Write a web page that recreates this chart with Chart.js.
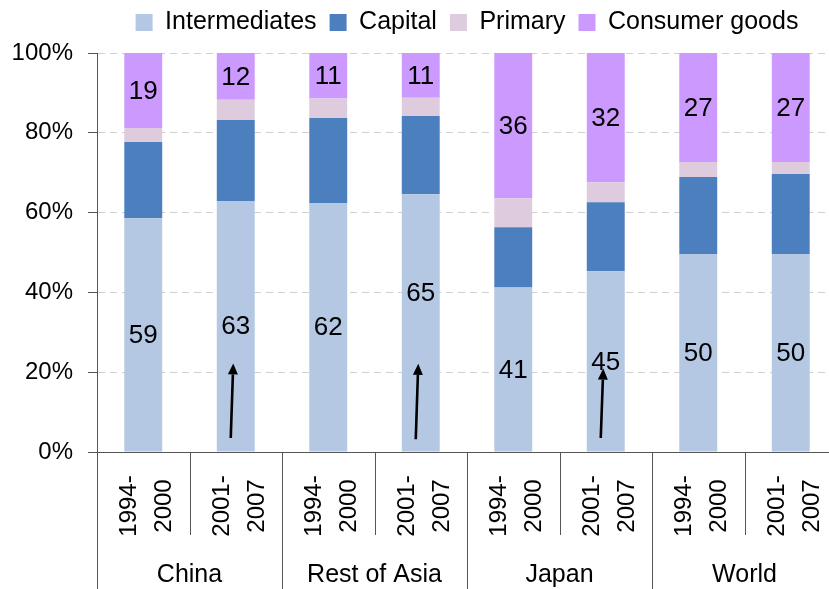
<!DOCTYPE html>
<html>
<head>
<meta charset="utf-8">
<script src="https://cdn.jsdelivr.net/npm/chart.js@4.4.0/dist/chart.umd.min.js"></script>
<style>
  html, body { margin: 0; padding: 0; background: #fff; overflow: hidden; }
  #wrap { width: 837px; height: 589px; }
</style>
</head>
<body>
<div id="wrap"><canvas id="chart"></canvas></div>
<script>
// Periods per bar, regions per pair of bars
const periods = [['1994-', '2000'], ['2001-', '2007'], ['1994-', '2000'], ['2001-', '2007'],
                 ['1994-', '2000'], ['2001-', '2007'], ['1994-', '2000'], ['2001-', '2007']];
const regions = ['China', 'Rest of Asia', 'Japan', 'World'];

// Shares of imports (%)
const intermediates = [58.6, 62.9, 62.4, 64.6, 41.2, 45.3, 49.6, 49.6];
const capital = [19.1, 20.3, 21.3, 19.6, 15.1, 17.3, 19.3, 20.1];
const primary = [3.5, 5.1, 4.9, 4.6, 7.3, 5.0, 3.8, 3.0];
const consumer = [18.8, 11.7, 11.4, 11.2, 36.4, 32.4, 27.3, 27.3];

const yTicks = [0, 20, 40, 60, 80, 100];

// Arrows drawn on some bars (from / to in %)
const arrowBars = [1, 3, 5];
const arrowFrom = [3.5, 3.2, 3.5];
const arrowTo = [22.2, 22.1, 20.9];

Chart.defaults.font.family = "'Liberation Sans', Arial, sans-serif";
Chart.defaults.color = '#000';

const lineColor = '#555';

// Lift the legend a little, leaving the plot where it is
const legendLift = {
  id: 'legendLift',
  afterLayout(chart) {
    const legend = chart.legend;
    if (!legend) return;
    legend.top -= 8;
    legend.bottom -= 8;
  }
};

// Numbers inside the intermediates and consumer goods segments
const valueLabels = {
  id: 'valueLabels',
  afterDatasetsDraw(chart) {
    const ctx = chart.ctx;
    ctx.save();
    ctx.font = "26px 'Liberation Sans', Arial, sans-serif";
    ctx.fillStyle = '#000';
    ctx.textAlign = 'center';
    ctx.textBaseline = 'middle';
    [0, 3].forEach(di => {
      const ds = chart.data.datasets[di];
      chart.getDatasetMeta(di).data.forEach((bar, i) => {
        let y = (bar.y + bar.base) / 2 + 1;
        // the 65 label sits higher, clear of its arrow
        if (di === 0 && i === 3) y -= 30;
        ctx.fillText(String(Math.round(ds.data[i])), bar.x, y);
      });
    });
    ctx.restore();
  }
};

// Arrows
const arrows = {
  id: 'arrows',
  afterDatasetsDraw(chart) {
    const ctx = chart.ctx;
    const xs = chart.scales.x, ys = chart.scales.y;
    ctx.save();
    ctx.strokeStyle = '#000';
    ctx.fillStyle = '#000';
    ctx.lineWidth = 2.6;
    arrowBars.forEach((b, k) => {
      const cx = xs.getPixelForValue(b);
      const x0 = cx - 5, y0 = ys.getPixelForValue(arrowFrom[k]);
      const x1 = cx - 2.5, y1 = ys.getPixelForValue(arrowTo[k]);
      const ang = Math.atan2(y1 - y0, x1 - x0);
      const hl = 11, hw = 5;
      const bx = x1 - hl * Math.cos(ang), by = y1 - hl * Math.sin(ang);
      ctx.beginPath();
      ctx.moveTo(x0, y0);
      ctx.lineTo(bx, by);
      ctx.stroke();
      ctx.beginPath();
      ctx.moveTo(x1, y1);
      ctx.lineTo(bx + hw * Math.sin(ang), by - hw * Math.cos(ang));
      ctx.lineTo(bx - hw * Math.sin(ang), by + hw * Math.cos(ang));
      ctx.closePath();
      ctx.fill();
    });
    ctx.restore();
  }
};

// Two-level category axis: rotated periods, region names, separators
const groupAxis = {
  id: 'groupAxis',
  afterDraw(chart) {
    const ctx = chart.ctx;
    const xs = chart.scales.x;
    const bottom = chart.chartArea.bottom;
    const half = (xs.getPixelForValue(1) - xs.getPixelForValue(0)) / 2;
    ctx.save();
    ctx.strokeStyle = lineColor;
    ctx.lineWidth = 1;
    for (let k = 0; k <= periods.length; k++) {
      const x = Math.round(xs.getPixelForValue(k) - half) + 0.5;
      ctx.beginPath();
      ctx.moveTo(x, bottom);
      ctx.lineTo(x, k % 2 === 0 ? chart.height : bottom + 83);
      ctx.stroke();
    }
    ctx.fillStyle = '#000';
    ctx.font = "24px 'Liberation Sans', Arial, sans-serif";
    ctx.textAlign = 'center';
    ctx.textBaseline = 'alphabetic';
    periods.forEach((lines, i) => {
      const cx = xs.getPixelForValue(i);
      ctx.save();
      ctx.translate(cx, bottom + 54);
      ctx.rotate(-Math.PI / 2);
      ctx.fillText(lines[0], 0, -7);
      ctx.fillText(lines[1], 0, 28);
      ctx.restore();
    });
    ctx.font = "25px 'Liberation Sans', Arial, sans-serif";
    regions.forEach((name, g) => {
      const cx = (xs.getPixelForValue(2 * g) + xs.getPixelForValue(2 * g + 1)) / 2;
      ctx.fillText(name, cx, bottom + 130);
    });
    ctx.restore();
  }
};

new Chart(document.getElementById('chart'), {
  type: 'bar',
  data: {
    labels: periods,
    datasets: [
      { label: 'Intermediates', data: intermediates, backgroundColor: '#B4C7E3' },
      { label: 'Capital', data: capital, backgroundColor: '#4C7FBE' },
      { label: 'Primary', data: primary, backgroundColor: '#DECBDE' },
      { label: 'Consumer goods', data: consumer, backgroundColor: '#CC99FF' }
    ]
  },
  options: {
    responsive: true,
    maintainAspectRatio: false,
    animation: false,
    datasets: {
      bar: { barPercentage: 0.41, categoryPercentage: 1, borderWidth: 0 }
    },
    plugins: {
      legend: {
        position: 'top',
        fullSize: false,
        labels: {
          boxWidth: 17,
          boxHeight: 17,
          padding: 13,
          color: '#000',
          font: { size: 25 }
        }
      },
      tooltip: { enabled: false }
    },
    scales: {
      x: {
        stacked: true,
        ticks: { display: false },
        grid: { display: false },
        border: { display: true, color: lineColor, width: 1 },
        afterFit(scale) { scale.height = 137; }
      },
      y: {
        stacked: true,
        min: 0,
        max: 100,
        afterBuildTicks(scale) { scale.ticks = yTicks.map(v => ({ value: v })); },
        ticks: {
          callback: v => v + '%',
          padding: 15,
          color: '#000',
          font: { size: 24 }
        },
        grid: {
          color: '#d0d0d0',
          tickColor: lineColor,
          tickLength: 9,
          tickBorderDash: []
        },
        border: { display: true, color: lineColor, width: 1, dash: [7, 5] },
        afterFit(scale) {
          scale.width = 97;
          scale.paddingTop = 53;
        }
      }
    }
  },
  plugins: [legendLift, valueLabels, arrows, groupAxis]
});
</script>
</body>
</html>
